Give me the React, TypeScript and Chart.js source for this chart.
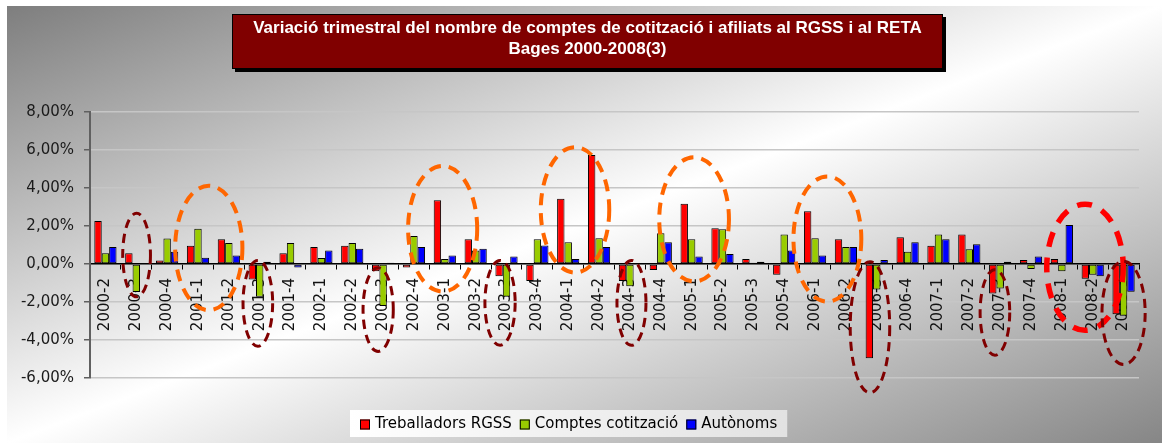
import React, { useEffect, useRef } from 'react';
import { Chart, registerables } from 'chart.js';

Chart.register(...registerables);

const categories = [
  '2000-2', '2000-3', '2000-4',
  '2001-1', '2001-2', '2001-3', '2001-4',
  '2002-1', '2002-2', '2002-3', '2002-4',
  '2003-1', '2003-2', '2003-3', '2003-4',
  '2004-1', '2004-2', '2004-3', '2004-4',
  '2005-1', '2005-2', '2005-3', '2005-4',
  '2006-1', '2006-2', '2006-3', '2006-4',
  '2007-1', '2007-2', '2007-3', '2007-4',
  '2008-1', '2008-2', '2008-3',
];

const treballadorsRGSS = [
  2.26, 0.57, 0.19,
  0.96, 1.30, -0.82, 0.57,
  0.89, 0.96, -0.38, -0.19,
  3.36, 1.30, -0.64, -0.90,
  3.43, 5.74, -0.90, -0.31,
  3.17, 1.88, 0.26, -0.57,
  2.78, 1.30, -4.96, 1.41,
  0.96, 1.55, -1.55, 0.21,
  0.26, -0.78, -2.64,
];

const comptesCotitzacio = [
  0.57, -1.48, 1.34,
  1.86, 1.10, -1.72, 1.10,
  0.31, 1.10, -2.21, 1.48,
  0.26, 0.71, -1.72, 1.30,
  1.15, 1.36, -1.17, 1.62,
  1.30, 1.83, 0.07, 1.55,
  1.36, 0.89, -1.34, 0.64,
  1.55, 0.78, -1.29, -0.26,
  -0.38, -0.56, -2.73,
];

const autonoms = [
  0.89, 0.05, 0.64,
  0.33, 0.45, 0.12, -0.19,
  0.71, 0.80, 0.07, 0.90,
  0.45, 0.80, 0.40, 0.97,
  0.26, 0.90, 0.05, 1.15,
  0.40, 0.52, 0.12, 0.71,
  0.45, 0.89, 0.21, 1.15,
  1.30, 1.04, 0.12, 0.40,
  2.05, -0.64, -1.46,
];

const seriesNames = ['Treballadors RGSS', 'Comptes cotització', 'Autònoms'];
const seriesColors = ['#ff0000', '#99cc00', '#0000ff'];

const titleLines = [
  'Variació trimestral del nombre de comptes de cotització i afiliats al RGSS i al RETA',
  'Bages 2000-2008(3)',
];

const yMin = -6;
const yMax = 8;
const yStep = 2;

// highlight rings: category index (fractional), half-width in categories, value range
const ringCenters = [1.01, 3.35, 4.94, 8.84, 10.93, 12.79, 15.22, 17.05, 19.08, 23.4, 24.78, 28.83, 31.75, 33.0];
const ringHalfWidths = [0.45, 1.09, 0.48, 0.49, 1.12, 0.49, 1.11, 0.47, 1.13, 1.1, 0.64, 0.48, 1.24, 0.7];
const ringTops = [2.67, 4.12, 0.19, -0.2, 5.16, 0.19, 6.15, 0.19, 5.62, 4.61, 0.12, -0.3, 3.15, 0.14];
const ringBottoms = [-1.73, -2.43, -4.33, -4.6, -1.45, -4.28, -0.45, -4.28, -0.92, -1.98, -6.78, -4.8, -3.49, -5.29];
const ringKinds = ['dark', 'orange', 'dark', 'dark', 'orange', 'dark', 'orange', 'dark', 'orange', 'orange', 'dark', 'dark', 'red', 'dark'];

const ringStyles: Record<string, { color: string; width: number; dash: number[] }> = {
  dark: { color: '#800000', width: 3, dash: [9, 6] },
  orange: { color: '#ff6600', width: 4, dash: [12, 8] },
  red: { color: '#ff0000', width: 5.5, dash: [15, 11] },
};

const FONT = '"DejaVu Sans", sans-serif';

const backgroundPlugin = {
  id: 'bgGradient',
  beforeDraw(chart: any) {
    const { ctx, width, height } = chart;
    ctx.save();
    ctx.scale(width, height);
    const g = ctx.createLinearGradient(0, 0, 1, 1);
    g.addColorStop(0, '#7e7e7e');
    g.addColorStop(0.5, '#ffffff');
    g.addColorStop(1, '#868686');
    ctx.fillStyle = g;
    ctx.fillRect(0, 0, 1, 1);
    ctx.restore();
  },
};

const titlePlugin = {
  id: 'titleBox',
  afterDraw(chart: any) {
    const { ctx, width } = chart;
    const boxW = 711;
    const boxH = 55;
    const bx = Math.round(width / 2 + 3 - boxW / 2);
    const by = 8;
    ctx.save();
    ctx.fillStyle = '#000';
    ctx.fillRect(bx + 3, by + 3, boxW, boxH);
    ctx.fillStyle = '#800000';
    ctx.fillRect(bx, by, boxW, boxH);
    ctx.strokeStyle = '#000';
    ctx.lineWidth = 1;
    ctx.strokeRect(bx + 0.5, by + 0.5, boxW - 1, boxH - 1);
    ctx.font = 'bold 17px "Liberation Sans", Arial, sans-serif';
    ctx.fillStyle = '#ffffff';
    ctx.textAlign = 'center';
    ctx.textBaseline = 'alphabetic';
    const w1 = ctx.measureText(titleLines[0]).width;
    const sx = Math.min(1, 700 / w1);
    const cx = bx + boxW / 2;
    const baselines = [by + 19, by + 40];
    titleLines.forEach((line, i) => {
      ctx.save();
      ctx.translate(cx, baselines[i]);
      ctx.scale(sx, 1);
      ctx.fillText(line, 0, 0);
      ctx.restore();
    });
    ctx.restore();
  },
};

const ringsPlugin = {
  id: 'rings',
  afterDatasetsDraw(chart: any) {
    const { ctx } = chart;
    const xs = chart.scales.x;
    const ys = chart.scales.y;
    const catW = xs.getPixelForValue(1) - xs.getPixelForValue(0);
    ctx.save();
    ringCenters.forEach((c, i) => {
      const st = ringStyles[ringKinds[i]];
      const cx = xs.getPixelForValue(c);
      const yt = ys.getPixelForValue(ringTops[i]);
      const yb = ys.getPixelForValue(ringBottoms[i]);
      const cy = (yt + yb) / 2;
      const ry = Math.abs(yb - yt) / 2;
      const rx = ringHalfWidths[i] * catW;
      ctx.beginPath();
      ctx.ellipse(cx, cy, rx, ry, 0, 0, Math.PI * 2);
      ctx.strokeStyle = st.color;
      ctx.lineWidth = st.width;
      ctx.setLineDash(st.dash);
      ctx.stroke();
    });
    ctx.restore();
  },
};

const legendPlugin = {
  id: 'customLegend',
  afterDraw(chart: any) {
    const { ctx } = chart;
    ctx.save();
    ctx.font = '15px ' + FONT;
    const widths = seriesNames.map((n) => ctx.measureText(n).width);
    const sq = 10;
    const gap = 5;
    const itemGap = 8;
    const pad = 10;
    let total = pad * 2;
    widths.forEach((w, i) => {
      total += sq + gap + w + (i > 0 ? itemGap : 0);
    });
    const centerX = chart.width / 2 - 16;
    const left = Math.round(centerX - total / 2);
    const top = 404;
    const h = 27;
    const g = ctx.createLinearGradient(left, top, left + total, top + h);
    g.addColorStop(0, '#ffffff');
    g.addColorStop(1, '#e2e2e2');
    ctx.fillStyle = g;
    ctx.fillRect(left, top, total, h);
    const midY = top + h / 2 + 1;
    let x = left + pad;
    ctx.textBaseline = 'middle';
    ctx.textAlign = 'left';
    seriesNames.forEach((n, i) => {
      ctx.fillStyle = seriesColors[i];
      ctx.fillRect(x, midY - sq / 2, sq, sq);
      ctx.strokeStyle = '#000';
      ctx.lineWidth = 1;
      ctx.strokeRect(x + 0.5, midY - sq / 2 + 0.5, sq - 1, sq - 1);
      x += sq + gap;
      ctx.fillStyle = '#000';
      ctx.fillText(n, x, midY);
      x += widths[i] + itemGap;
    });
    ctx.restore();
  },
};

export default function App() {
  const canvasRef = useRef<HTMLCanvasElement | null>(null);

  useEffect(() => {
    if (!canvasRef.current) return;
    const datasets = [treballadorsRGSS, comptesCotitzacio, autonoms].map((d, i) => ({
      label: seriesNames[i],
      data: d,
      backgroundColor: seriesColors[i],
      borderColor: '#000000',
      borderWidth: 1,
      borderSkipped: false,
      barPercentage: 1,
      categoryPercentage: 0.72,
    }));
    const chart = new Chart(canvasRef.current, {
      type: 'bar',
      data: { labels: categories, datasets },
      options: {
        responsive: false,
        animation: false,
        devicePixelRatio: 1,
        layout: { padding: { left: 0, top: 106, right: 23, bottom: 65 } },
        plugins: {
          legend: { display: false },
          title: { display: false },
          tooltip: { enabled: false },
        },
        scales: {
          x: {
            position: { y: 0 } as any,
            grid: {
              display: true,
              drawOnChartArea: false,
              drawTicks: true,
              tickLength: 5,
              tickColor: '#000000',
              tickWidth: 1,
              offset: true,
            },
            border: { display: true, color: '#000000', width: 1.5 },
            ticks: {
              autoSkip: false,
              maxRotation: 90,
              minRotation: 90,
              padding: 9,
              color: '#111111',
              font: { family: FONT, size: 15 },
            },
          },
          y: {
            min: yMin,
            max: yMax,
            afterFit(scale: any) {
              scale.width = 83;
            },
            grid: {
              color: '#c6c6c6',
              lineWidth: 1.5,
              drawTicks: true,
              tickLength: 6,
              tickColor: '#606060',
              tickWidth: 1.5,
            },
            border: { display: true, color: '#606060', width: 2 },
            ticks: {
              stepSize: yStep,
              padding: 10,
              color: '#1a1a1a',
              font: { family: FONT, size: 15 },
              callback: (v: any) => Number(v).toFixed(2).replace('.', ',') + '%',
            },
          },
        },
      },
      plugins: [backgroundPlugin, ringsPlugin, legendPlugin, titlePlugin],
    });
    return () => chart.destroy();
  }, []);

  return (
    <div style={{ position: 'absolute', left: 7, top: 6, width: 1155, height: 437 }}>
      <canvas ref={canvasRef} width={1155} height={437} style={{ display: 'block' }} />
    </div>
  );
}
